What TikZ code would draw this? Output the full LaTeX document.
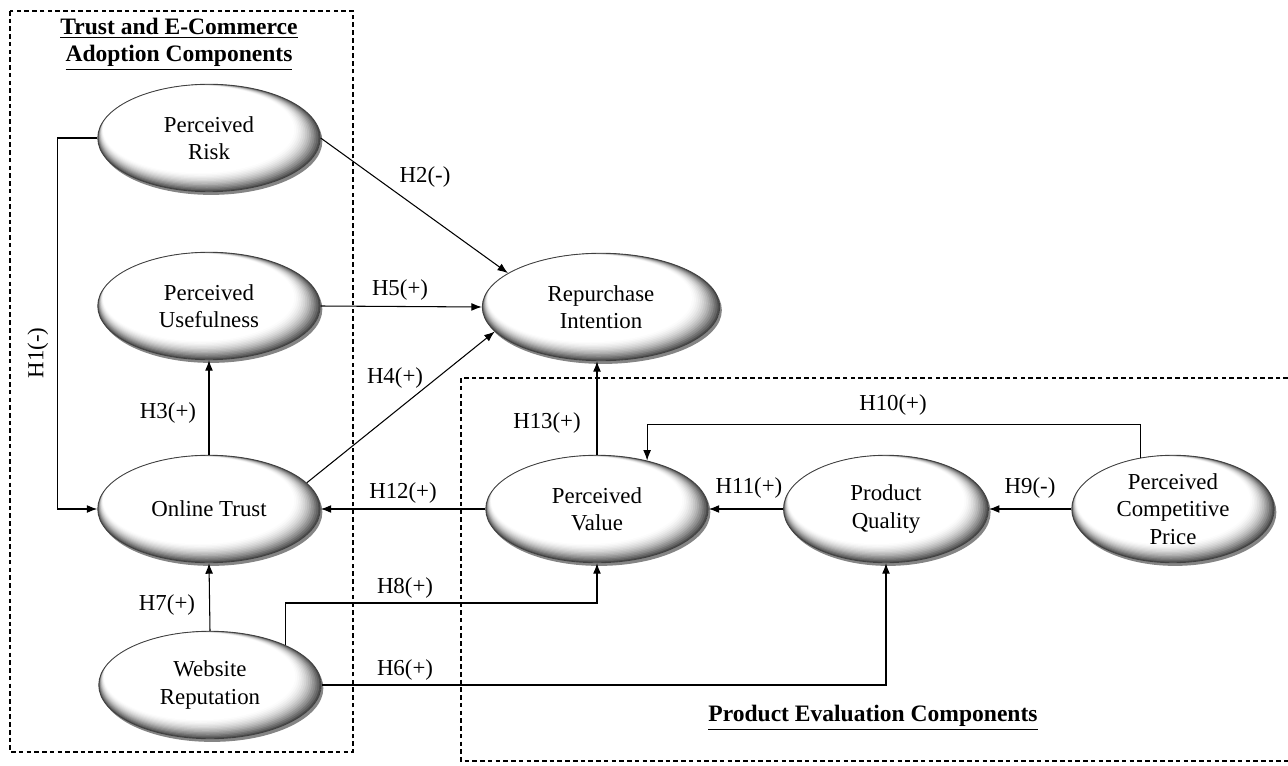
\documentclass[tikz,border=0pt]{standalone}
\usepackage{fontspec}
\setmainfont{Liberation Serif}
\usetikzlibrary{shapes.geometric,arrows.meta,shadows,calc}

\tikzset{
  eggfill/.style={path picture={
    \foreach \k in {0,...,15}{
      \pgfmathsetmacro{\t}{\k/15}
      \pgfmathtruncatemacro{\c}{70*(1-\t)^1.8}
      \fill[black!\c] let \p1=(path picture bounding box.north east),
        \p2=(path picture bounding box.center) in
        (\p2) ++({-0.1*\t*(\x1-\x2)},{0.17*\t*(\y1-\y2)})
        ellipse [x radius={(1-0.15*\t)*(\x1-\x2)}, y radius={(1-0.2*\t)*(\y1-\y2)}];
    }}},
  construct/.style={ellipse, draw=black!75, line width=0.5pt, fill=white, eggfill,
    drop shadow={shadow xshift=1.2pt, shadow yshift=-1.8pt, fill=black!60, opacity=0.8},
    align=center, inner sep=0pt, minimum width=4.45cm, minimum height=2.15cm,
    font=\fontsize{13}{15.5}\selectfont},
  hyp/.style={font=\fontsize{13}{15.5}\selectfont, inner sep=1pt},
  link/.style={-{Latex[length=6pt,width=4.5pt]}, line width=0.6pt},
  groupbox/.style={dash pattern=on 2.6pt off 1.8pt, line width=0.6pt},
  grouptitle/.style={font=\fontsize{13.4}{15.5}\selectfont\bfseries, align=center}
}

\begin{document}
\begin{tikzpicture}[x=0.02cm, y=0.02cm]
\useasboundingbox (0,0) rectangle (1288,765);

\draw[groupbox] (10,754) rectangle (353,13);
\draw[groupbox] (1288,387) -- (461,387) -- (461,4) -- (1288,4);
\node[grouptitle] (trusttitle) at (179,721) {\underline{Trust and E-Commerce}\\\underline{Adoption Components}};
\node[grouptitle] (prodtitle) at (873,47) {\underline{Product Evaluation Components}};

\node[construct] (risk) at (209,627) {Perceived\\Risk};
\node[construct] (useful) at (209,459) {Perceived\\Usefulness};
\node[construct] (trust) at (209,256) {Online Trust};
\node[construct] (web) at (210,80) {Website\\Reputation};
\node[construct, minimum width=4.75cm] (rep) at (601,458) {Repurchase\\Intention};
\node[construct] (value) at (597,256) {Perceived\\Value};
\node[construct, minimum width=4.1cm] (quality) at (886,256) {Product\\Quality};
\node[construct, minimum width=4.05cm] (price) at (1173,256) {Perceived\\Competitive\\Price};

\draw[link] (risk.west) -- ++(-40,0) |- (trust.west);
\draw[link] (risk.east) -- (rep.160);
\draw[link] (useful.east) -- (rep.west);
\draw[link] (trust.15) -- (rep.193);
\draw[link] (trust.north) -- (useful.south);
\draw[link] (web.north) -- (trust.south);
\draw[link] (web.28) -- ++(0,42) -| (value.south);
\draw[link] (web.east) -| (quality.south);
\draw[link] (value.west) -- (trust.east);
\draw[link] (value.north) -- (value.north |- rep.south);
\draw[link] (price.122) -- ++(0,33) -| (value.44);
\draw[link] (quality.west) -- (value.east);
\draw[link] (price.west) -- (quality.east);

\node[hyp, rotate=90] (h1) at (38,412) {H1(-)};
\node[hyp] (h2) at (425,588) {H2(-)};
\node[hyp] (h3) at (168,352) {H3(+)};
\node[hyp] (h4) at (395,387) {H4(+)};
\node[hyp] (h5) at (400,475) {H5(+)};
\node[hyp] (h6) at (405,95) {H6(+)};
\node[hyp] (h7) at (167,160) {H7(+)};
\node[hyp] (h8) at (405,177) {H8(+)};
\node[hyp] (h9) at (1030,277) {H9(-)};
\node[hyp] (h10) at (893,360) {H10(+)};
\node[hyp] (h11) at (749,277) {H11(+)};
\node[hyp] (h12) at (403,272) {H12(+)};
\node[hyp] (h13) at (547,342) {H13(+)};
\end{tikzpicture}
\end{document}
